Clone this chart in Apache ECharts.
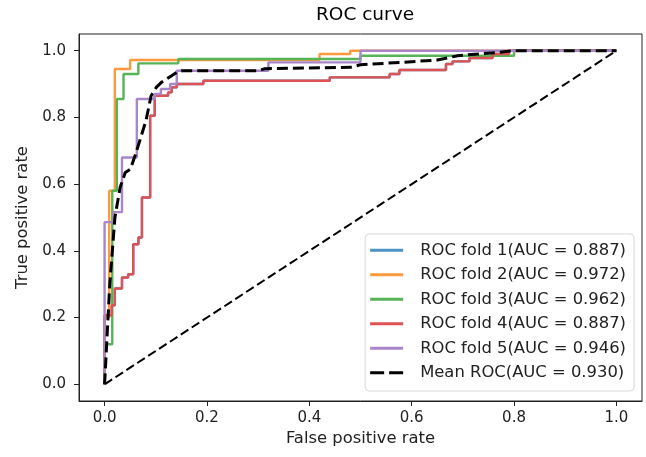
<!DOCTYPE html>
<html>
<head>
<meta charset="utf-8">
<script src="https://cdn.jsdelivr.net/npm/echarts@6/dist/echarts.min.js"></script>
<style>
  html, body { margin: 0; padding: 0; background: #fff; }
  #chart { width: 646px; height: 457px; }
</style>
</head>
<body>
<div id="chart"></div>
<script>
// tick labels on both axes
const tickValues = [0, 0.2, 0.4, 0.6, 0.8, 1.0]

const foldNames = [
  'ROC fold 1(AUC = 0.887)',
  'ROC fold 2(AUC = 0.972)',
  'ROC fold 3(AUC = 0.962)',
  'ROC fold 4(AUC = 0.887)',
  'ROC fold 5(AUC = 0.946)',
]
const meanName = 'Mean ROC(AUC = 0.930)'

// [fpr, tpr] corners
// fold 1 sits exactly under fold 4 (same AUC), so it is not visible
const fold4 = [
  [0, 0], [0, 0.207], [0.014, 0.207], [0.014, 0.237], [0.02, 0.237], [0.02, 0.287],
  [0.034, 0.287], [0.034, 0.32], [0.046, 0.32], [0.046, 0.33], [0.056, 0.33], [0.056, 0.42],
  [0.066, 0.42], [0.066, 0.44], [0.073, 0.44], [0.073, 0.56], [0.089, 0.56], [0.089, 0.805],
  [0.098, 0.805], [0.098, 0.865], [0.124, 0.865], [0.124, 0.875], [0.131, 0.875], [0.131, 0.89],
  [0.141, 0.89], [0.141, 0.9], [0.193, 0.9], [0.193, 0.91], [0.44, 0.91], [0.44, 0.92],
  [0.557, 0.92], [0.557, 0.93], [0.576, 0.93], [0.576, 0.942], [0.667, 0.942], [0.667, 0.96],
  [0.68, 0.96], [0.68, 0.968], [0.713, 0.968], [0.713, 0.978], [0.758, 0.978], [0.758, 0.99],
  [0.79, 0.99], [0.79, 1], [1, 1],
]
const fold1 = fold4.slice()
const fold2 = [
  [0, 0], [0, 0.2], [0.009, 0.2], [0.009, 0.58], [0.02, 0.58], [0.02, 0.945], [0.05, 0.945],
  [0.05, 0.972], [0.42, 0.972], [0.42, 0.99], [0.48, 0.99], [0.48, 1], [1, 1],
]
const fold3 = [
  [0, 0], [0, 0.12], [0.015, 0.12], [0.015, 0.58], [0.024, 0.58], [0.024, 0.855], [0.037, 0.855],
  [0.037, 0.93], [0.066, 0.93], [0.066, 0.962], [0.144, 0.962], [0.144, 0.975], [0.5, 0.975],
  [0.5, 0.985], [0.8, 0.985], [0.8, 1], [1, 1],
]
const fold5 = [
  [0, 0], [0, 0.486], [0.017, 0.486], [0.017, 0.516], [0.034, 0.516], [0.034, 0.68], [0.063, 0.68],
  [0.063, 0.855], [0.098, 0.855], [0.098, 0.87], [0.11, 0.87], [0.11, 0.885], [0.128, 0.885],
  [0.128, 0.9], [0.141, 0.9], [0.141, 0.94], [0.32, 0.94], [0.32, 0.965], [0.5, 0.965], [0.5, 1], [1, 1],
]
const meanRoc = [
  [0, 0], [0.0101, 0.3], [0.0202, 0.5], [0.0303, 0.59], [0.0404, 0.635], [0.0505, 0.645],
  [0.0606, 0.69], [0.0707, 0.74], [0.0808, 0.79], [0.0909, 0.865], [0.101, 0.89], [0.111, 0.905],
  [0.121, 0.915], [0.131, 0.925], [0.141, 0.935], [0.152, 0.94], [0.3, 0.94], [0.313, 0.946],
  [0.48, 0.95], [0.5, 0.958], [0.58, 0.965], [0.65, 0.972], [0.69, 0.985], [0.77, 0.995],
  [0.8, 1], [1, 1],
]
const chance = [[0, 0], [1, 1]]

const foldData = [fold1, fold2, fold3, fold4, fold5]
// tab10 colours at alpha 0.8 over white
const foldColors = ['#4c92c3', '#ff993e', '#56b356', '#de5253', '#a985ca']

const font = 'DejaVu Sans'
const chart = echarts.init(document.getElementById('chart'), null, { renderer: 'canvas' })

const axisCommon = {
  type: 'value',
  min: -0.05,
  max: 1.05,
  splitLine: { show: false },
  axisLine: { show: true, onZero: false, lineStyle: { color: '#222', width: 1 } },
  axisTick: { show: true, length: 5, customValues: tickValues, lineStyle: { color: '#222' } },
  axisLabel: {
    customValues: tickValues,
    formatter: v => v.toFixed(1),
    color: '#222',
    fontFamily: font,
    fontSize: 15,
  },
  nameLocation: 'middle',
  nameTextStyle: { color: '#222', fontFamily: font, fontSize: 16.4 },
}

const series = [
  {
    name: 'chance',
    type: 'line',
    data: chance,
    symbol: 'none',
    lineStyle: { color: '#000', width: 2, type: [9, 4] },
  },
]
foldData.forEach((d, i) => {
  series.push({
    name: foldNames[i],
    type: 'line',
    data: d,
    symbol: 'none',
    color: foldColors[i],
    lineStyle: { color: foldColors[i], width: 2.4 },
  })
})
series.push({
  name: meanName,
  type: 'line',
  data: meanRoc,
  symbol: 'none',
  color: '#000',
  lineStyle: { color: '#000', width: 3, type: [11, 5] },
})

const legendData = foldNames.map(n => ({ name: n, icon: 'rect' }))
legendData.push({ name: meanName, icon: 'path://M0,0h14v3h-14z M19,0h14v3h-14z' })

chart.setOption({
  animation: false,
  backgroundColor: '#fff',
  title: {
    text: 'ROC curve',
    left: 360,
    top: 1,
    textAlign: 'center',
    textStyle: { fontFamily: font, fontSize: 18.5, fontWeight: 'normal', color: '#000' },
  },
  grid: {
    left: 79, right: 4, top: 34, bottom: 56,
    show: true, borderColor: '#222', borderWidth: 1,
  },
  xAxis: Object.assign({}, axisCommon, {
    name: 'False positive rate',
    nameGap: 28,
    axisLabel: Object.assign({}, axisCommon.axisLabel, { margin: 10 }),
  }),
  yAxis: Object.assign({}, axisCommon, {
    name: 'True positive rate',
    nameGap: 48,
    axisLabel: Object.assign({}, axisCommon.axisLabel, { margin: 13 }),
  }),
  legend: {
    data: legendData,
    orient: 'vertical',
    right: 12,
    bottom: 66,
    itemWidth: 33,
    itemHeight: 3,
    itemGap: 6,
    padding: [7, 8, 9, 5],
    align: 'left',
    borderColor: '#d8d8d8',
    borderWidth: 1,
    borderRadius: 4,
    backgroundColor: 'rgba(255,255,255,0.8)',
    itemStyle: { borderWidth: 0 },
    selectedMode: false,
    textStyle: {
      fontFamily: font,
      fontSize: 16.4,
      lineHeight: 18.5,
      color: '#222',
      padding: [0, 0, 0, 12],
    },
  },
  series: series,
})
</script>
</body>
</html>
